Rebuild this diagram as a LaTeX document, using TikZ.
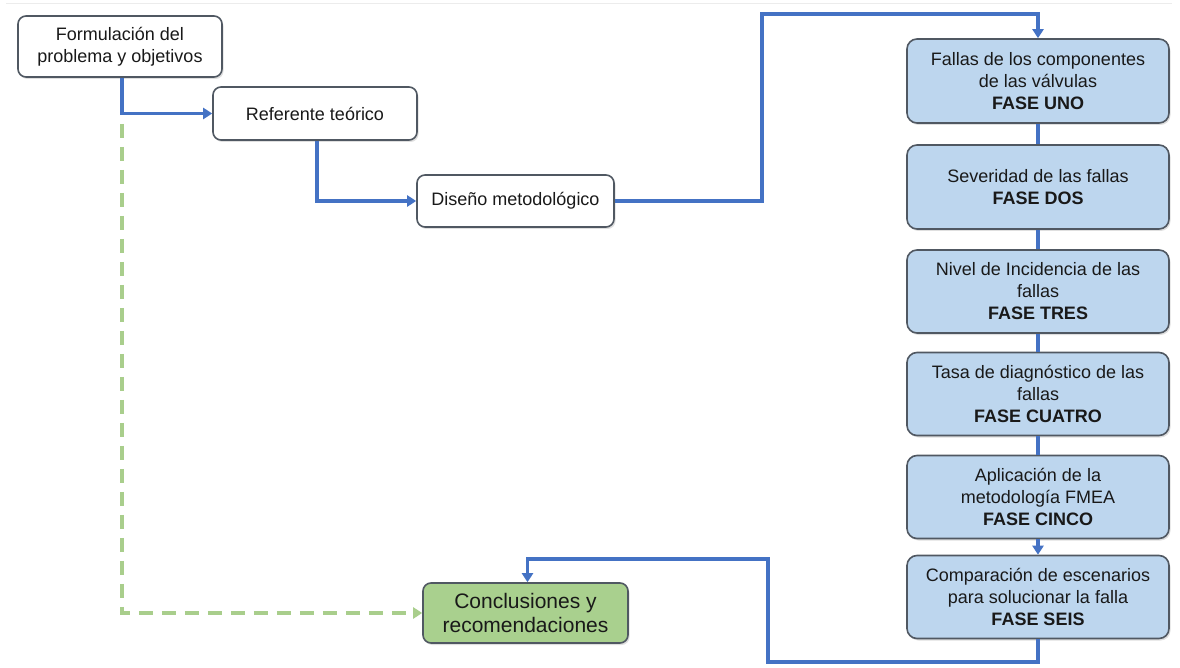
\documentclass[tikz,border=0pt]{standalone}
\usepackage{fontspec}
\setmainfont{Liberation Sans}
\usetikzlibrary{shadows,arrows.meta}
\definecolor{lineblue}{RGB}{68,114,196}
\definecolor{boxblue}{RGB}{189,214,238}
\definecolor{boxgreen}{RGB}{169,208,142}
\definecolor{dashgreen}{RGB}{169,206,140}
\definecolor{edgegray}{RGB}{80,88,98}
\begin{document}
\begin{tikzpicture}[x=1pt,y=-1pt,
  base/.style={draw=edgegray, line width=1.6pt, rounded corners=8pt, align=center,
    inner sep=2pt, text=black!90,
    drop shadow={opacity=0.25, shadow xshift=1.5pt, shadow yshift=-2pt}},
  whitebox/.style={base, fill=white, font=\fontsize{18}{22}\selectfont},
  phasebox/.style={base, fill=boxblue, rounded corners=10pt, minimum width=262pt,
    minimum height=83pt, font=\fontsize{18}{22}\selectfont},
  greenbox/.style={base, fill=boxgreen, minimum width=205pt, minimum height=60pt,
    font=\fontsize{21}{24}\selectfont},
  flow/.style={draw=lineblue, line width=3.6pt},
  flowarrow/.style={flow, -{Triangle[length=9pt,width=11pt]}},
  greenarrow/.style={draw=dashgreen, line width=3.4pt, dash pattern=on 14pt off 9pt,
    -{Triangle[length=9pt,width=11pt]}}
]
\useasboundingbox (0,0) rectangle (1180,668);
\fill[white] (0,0) rectangle (1180,668);
\draw[gray!15, line width=0.8pt] (6,3) -- (1172,3);

% nodes
\node[whitebox, minimum width=204pt, minimum height=61pt] (f1) at (120,46.5)
  {Formulación del\\problema y objetivos};
\node[whitebox, minimum width=204pt, minimum height=53pt] (ref) at (315,113.5)
  {Referente teórico};
\node[whitebox, minimum width=197pt, minimum height=52pt] (dis) at (515.5,201)
  {Diseño metodológico};

\node[phasebox, minimum height=84pt] (b1) at (1038,81)
  {Fallas de los componentes\\de las válvulas\\\textbf{FASE UNO}};
\node[phasebox, minimum height=84pt] (b2) at (1038,187)
  {Severidad de las fallas\\\textbf{FASE DOS}};
\node[phasebox] (b3) at (1038,291.5)
  {Nivel de Incidencia de las\\fallas\\\textbf{FASE TRES}};
\node[phasebox] (b4) at (1038,394)
  {Tasa de diagnóstico de las\\fallas\\\textbf{FASE CUATRO}};
\node[phasebox] (b5) at (1038,497)
  {Aplicación de la\\metodología FMEA\\\textbf{FASE CINCO}};
\node[phasebox] (b6) at (1038,597)
  {Comparación de escenarios\\para solucionar la falla\\\textbf{FASE SEIS}};

\node[greenbox] (conc) at (525.5,613) {Conclusiones y\\recomendaciones};

% connectors
\coordinate (topright) at (762,14);
\coordinate (botleft) at (768,662);
\coordinate (botup) at (768,559);

\draw[greenarrow] ([xshift=2pt]f1.south) |- (conc.west);
\draw[flowarrow] ([xshift=2pt]f1.south) |- (ref.west);
\draw[flowarrow] ([xshift=2pt]ref.south) |- (dis.west);
\draw[flowarrow] (dis.east) -| (topright) -| (b1.north);
\draw[flow] (b1.south) -- (b2.north);
\draw[flow] (b2.south) -- (b3.north);
\draw[flow] (b3.south) -- (b4.north);
\draw[flow] (b4.south) -- (b5.north);
\draw[flowarrow] (b5.south) -- (b6.north);
\draw[flowarrow] (b6.south) |- (botleft) -- (botup) -| ([xshift=2pt]conc.north);
\end{tikzpicture}
\end{document}
